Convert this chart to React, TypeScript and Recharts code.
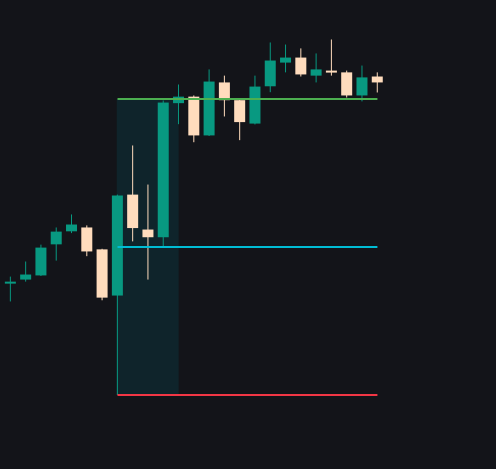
import { ComposedChart, Bar, XAxis, YAxis, ReferenceLine, ReferenceArea } from 'recharts';

// candle index, open, high, low, close
const idx = [0, 1, 2, 3, 4, 5, 6, 7, 8, 9, 10, 11, 12, 13, 14, 15, 16, 17, 18, 19, 20, 21, 22, 23, 24];
const opens = [103.78, 103.90, 104.04, 105.09, 105.53, 105.66, 104.92, 103.36, 106.77, 105.59, 105.33, 109.86, 110.08, 108.77, 110.56, 109.96, 109.17, 110.43, 111.23, 111.40, 110.79, 110.96, 110.90, 110.12, 110.76];
const highs = [104.00, 104.51, 105.08, 105.66, 106.10, 105.73, 104.94, 106.77, 108.43, 107.11, 109.95, 110.49, 110.12, 111.00, 110.79, 110.02, 110.79, 111.91, 111.84, 111.71, 111.54, 112.01, 110.96, 111.13, 110.90];
const lows = [103.16, 103.83, 104.02, 104.54, 105.47, 104.69, 103.20, 100.00, 105.19, 103.90, 104.99, 109.15, 108.54, 108.75, 109.41, 108.61, 109.14, 110.23, 110.90, 110.76, 110.56, 110.79, 110.05, 109.92, 110.22];
const closes = [103.83, 104.07, 104.98, 105.52, 105.76, 104.85, 103.29, 106.74, 105.64, 105.33, 109.88, 110.08, 108.77, 110.59, 109.96, 109.22, 110.42, 111.30, 111.40, 110.83, 111.00, 110.90, 110.12, 110.73, 110.56];

// position tool levels
const stopPrice = 100;
const entryPrice = 105;
const targetPrice = 110;
const entryIdx = 7;
const endIdx = 24;
const zoneEnd = 11;

const UP = '#089981';
const DOWN = '#ffdcbd';

const data = idx.map((i) => ({
  i,
  open: opens[i],
  high: highs[i],
  low: lows[i],
  close: closes[i],
  range: [lows[i], highs[i]],
}));

const Candle = (props: any) => {
  const { x, y, width, height, payload } = props;
  const { open, close, high, low } = payload;
  const ppu = height / (high - low);
  const cx = x + width / 2;
  const color = close >= open ? UP : DOWN;
  const top = y + (high - Math.max(open, close)) * ppu;
  const bot = y + (high - Math.min(open, close)) * ppu;
  const bh = Math.max(2, bot - top);
  return (
    <g>
      <line x1={cx} x2={cx} y1={y} y2={y + height} stroke={color} strokeWidth={1} />
      <rect x={cx - 5.5} y={top} width={11} height={bh} fill={color} />
    </g>
  );
};

export default function App() {
  return (
    <div style={{ position: 'fixed', left: 0, top: 0, width: 496, height: 469, background: '#131419' }}>
      <ComposedChart width={496} height={469} data={data} margin={{ top: 0, right: 0, bottom: 0, left: 0 }}>
        <XAxis dataKey="i" type="number" domain={[-0.687, 31.757]} hide />
        <YAxis type="number" domain={[97.50, 113.345]} hide allowDataOverflow />
        <ReferenceArea x1={entryIdx - 0.05} x2={zoneEnd} y1={stopPrice} y2={targetPrice} fill="#0f242b" fillOpacity={1} stroke="none" />
        <ReferenceLine segment={[{ x: entryIdx, y: targetPrice }, { x: endIdx, y: targetPrice }]} stroke="#4caf50" strokeWidth={2} />
        <ReferenceLine segment={[{ x: entryIdx, y: entryPrice }, { x: endIdx, y: entryPrice }]} stroke="#00bcd4" strokeWidth={2} />
        <ReferenceLine segment={[{ x: entryIdx, y: stopPrice }, { x: endIdx, y: stopPrice }]} stroke="#f23645" strokeWidth={2} />
        <Bar dataKey="range" barSize={11} shape={<Candle />} isAnimationActive={false} />
      </ComposedChart>
    </div>
  );
}
